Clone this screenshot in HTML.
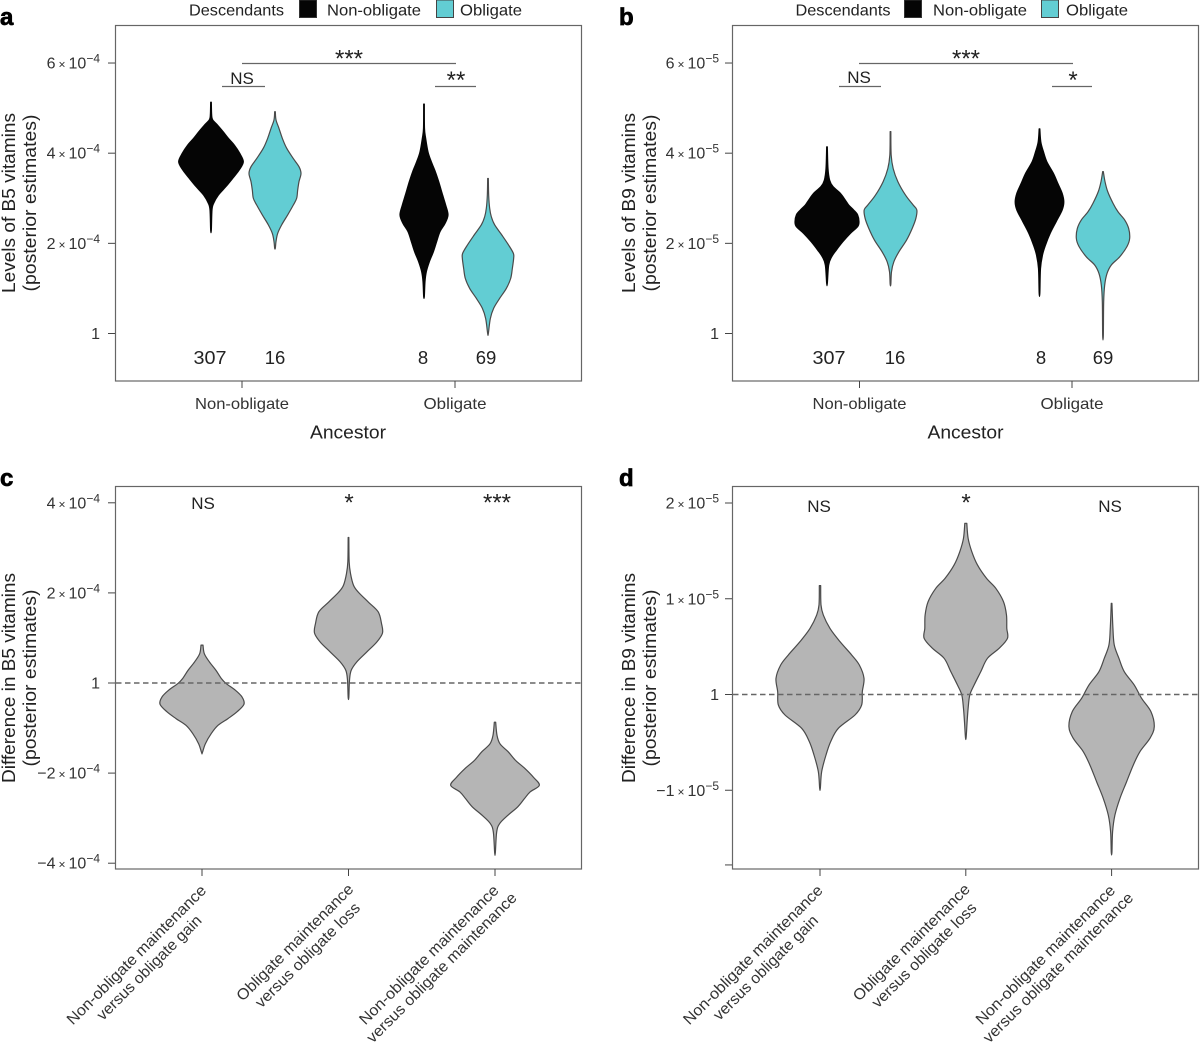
<!DOCTYPE html>
<html lang="en">
<head>
<meta charset="utf-8">
<title>Posterior estimates of B5 and B9 vitamin levels</title>
<style>
  html, body { margin: 0; padding: 0; background: #fff; }
  svg { display: block; }
  text { font-family: "Liberation Sans", sans-serif; fill: #222; }
  .panel-letter { font-size: 24px; font-weight: 700; fill: #000; stroke: #000; stroke-width: .7px; }
  .legend { font-size: 16px; }
  .title { font-size: 18px; }
  .cat { font-size: 16px; fill: #333; }
  .count { font-size: 18.5px; }
  .ns { font-size: 17px; }
  .star { font-size: 24px; }
  .rot { font-size: 15.5px; fill: #333; }
</style>
</head>
<body>
<svg id="figure" width="1200" height="1043" viewBox="0 0 1200 1043" xmlns="http://www.w3.org/2000/svg">
  <rect x="0" y="0" width="1200" height="1043" fill="#fff"/>

  <text class="panel-letter" x="0" y="25">a</text>
  <text class="panel-letter" x="619" y="25">b</text>
  <text class="panel-letter" x="0" y="486">c</text>
  <text class="panel-letter" x="619" y="486">d</text>

  <!-- Legends -->
  <g>
    <text class="legend" x="189" y="15.5" textLength="95" lengthAdjust="spacingAndGlyphs">Descendants</text>
    <rect x="299.5" y="0" width="17" height="17.5" fill="#050505" stroke="#333" stroke-width="1"/>
    <text class="legend" x="327" y="15.5" textLength="94" lengthAdjust="spacingAndGlyphs">Non-obligate</text>
    <rect x="436.5" y="0" width="17" height="17.5" fill="#62CDD3" stroke="#444" stroke-width="1"/>
    <text class="legend" x="460" y="15.5" textLength="62" lengthAdjust="spacingAndGlyphs">Obligate</text>
  </g>
  <g>
    <text class="legend" x="795.5" y="15.5" textLength="95" lengthAdjust="spacingAndGlyphs">Descendants</text>
    <rect x="904.5" y="0" width="17" height="17.5" fill="#050505" stroke="#333" stroke-width="1"/>
    <text class="legend" x="933" y="15.5" textLength="94" lengthAdjust="spacingAndGlyphs">Non-obligate</text>
    <rect x="1041.5" y="0" width="17" height="17.5" fill="#62CDD3" stroke="#444" stroke-width="1"/>
    <text class="legend" x="1066" y="15.5" textLength="62" lengthAdjust="spacingAndGlyphs">Obligate</text>
  </g>

  <!-- Frames -->
  <rect x="115.5" y="25.5" width="466" height="355.5" fill="none" stroke="#666" stroke-width="1.2"/>
  <rect x="732.5" y="25.5" width="466" height="355.5" fill="none" stroke="#666" stroke-width="1.2"/>
  <rect x="115.5" y="486.5" width="466" height="382.5" fill="none" stroke="#666" stroke-width="1.2"/>
  <rect x="732.5" y="486.5" width="466" height="382.5" fill="none" stroke="#666" stroke-width="1.2"/>

  <!-- Y axis titles -->
  <g>
    <text class="title" transform="translate(15,203) rotate(-90)" text-anchor="middle" textLength="180" lengthAdjust="spacingAndGlyphs">Levels of B5 vitamins</text>
    <text class="title" transform="translate(36,203) rotate(-90)" text-anchor="middle" textLength="177" lengthAdjust="spacingAndGlyphs">(posterior estimates)</text>
  </g>
  <g>
    <text class="title" transform="translate(635,203) rotate(-90)" text-anchor="middle" textLength="180" lengthAdjust="spacingAndGlyphs">Levels of B9 vitamins</text>
    <text class="title" transform="translate(656,203) rotate(-90)" text-anchor="middle" textLength="177" lengthAdjust="spacingAndGlyphs">(posterior estimates)</text>
  </g>
  <g>
    <text class="title" transform="translate(15,678) rotate(-90)" text-anchor="middle" textLength="210" lengthAdjust="spacingAndGlyphs">Difference in B5 vitamins</text>
    <text class="title" transform="translate(36,678) rotate(-90)" text-anchor="middle" textLength="177" lengthAdjust="spacingAndGlyphs">(posterior estimates)</text>
  </g>
  <g>
    <text class="title" transform="translate(635,678) rotate(-90)" text-anchor="middle" textLength="210" lengthAdjust="spacingAndGlyphs">Difference in B9 vitamins</text>
    <text class="title" transform="translate(656,678) rotate(-90)" text-anchor="middle" textLength="177" lengthAdjust="spacingAndGlyphs">(posterior estimates)</text>
  </g>

  <!-- X axis titles and category labels (a, b) -->
  <text class="cat" x="242" y="409" text-anchor="middle" textLength="94" lengthAdjust="spacingAndGlyphs">Non-obligate</text>
  <text class="cat" x="455" y="409" text-anchor="middle" textLength="63" lengthAdjust="spacingAndGlyphs">Obligate</text>
  <text class="title" x="348" y="438.5" text-anchor="middle" textLength="76" lengthAdjust="spacingAndGlyphs">Ancestor</text>
  <text class="cat" x="859.5" y="409" text-anchor="middle" textLength="94" lengthAdjust="spacingAndGlyphs">Non-obligate</text>
  <text class="cat" x="1072" y="409" text-anchor="middle" textLength="63" lengthAdjust="spacingAndGlyphs">Obligate</text>
  <text class="title" x="965.5" y="438.5" text-anchor="middle" textLength="76" lengthAdjust="spacingAndGlyphs">Ancestor</text>

  <!-- Sample counts -->
  <text class="count" x="210" y="364" text-anchor="middle" textLength="33" lengthAdjust="spacingAndGlyphs">307</text>
  <text class="count" x="275" y="364" text-anchor="middle">16</text>
  <text class="count" x="423" y="364" text-anchor="middle">8</text>
  <text class="count" x="486" y="364" text-anchor="middle">69</text>
  <text class="count" x="829" y="364" text-anchor="middle" textLength="33" lengthAdjust="spacingAndGlyphs">307</text>
  <text class="count" x="895" y="364" text-anchor="middle">16</text>
  <text class="count" x="1041" y="364" text-anchor="middle">8</text>
  <text class="count" x="1103" y="364" text-anchor="middle">69</text>

  <!-- Rotated category labels (c, d) -->
  <g class="rot-label" transform="translate(140,958.5) rotate(-45)">
    <text class="rot" x="0" y="0" text-anchor="middle" textLength="190" lengthAdjust="spacingAndGlyphs">Non-obligate maintenance</text>
    <text class="rot" x="0" y="18" text-anchor="middle" textLength="141" lengthAdjust="spacingAndGlyphs">versus obligate gain</text>
  </g>
  <g class="rot-label" transform="translate(298.5,946) rotate(-45)">
    <text class="rot" x="0" y="0" text-anchor="middle" textLength="158" lengthAdjust="spacingAndGlyphs">Obligate maintenance</text>
    <text class="rot" x="0" y="18" text-anchor="middle" textLength="141" lengthAdjust="spacingAndGlyphs">versus obligate loss</text>
  </g>
  <g class="rot-label" transform="translate(432.5,958.5) rotate(-45)">
    <text class="rot" x="0" y="0" text-anchor="middle" textLength="190" lengthAdjust="spacingAndGlyphs">Non-obligate maintenance</text>
    <text class="rot" x="0" y="18" text-anchor="middle" textLength="205" lengthAdjust="spacingAndGlyphs">versus obligate maintenance</text>
  </g>
  <g class="rot-label" transform="translate(756.5,958.5) rotate(-45)">
    <text class="rot" x="0" y="0" text-anchor="middle" textLength="190" lengthAdjust="spacingAndGlyphs">Non-obligate maintenance</text>
    <text class="rot" x="0" y="18" text-anchor="middle" textLength="141" lengthAdjust="spacingAndGlyphs">versus obligate gain</text>
  </g>
  <g class="rot-label" transform="translate(915,946) rotate(-45)">
    <text class="rot" x="0" y="0" text-anchor="middle" textLength="158" lengthAdjust="spacingAndGlyphs">Obligate maintenance</text>
    <text class="rot" x="0" y="18" text-anchor="middle" textLength="141" lengthAdjust="spacingAndGlyphs">versus obligate loss</text>
  </g>
  <g class="rot-label" transform="translate(1049,958.5) rotate(-45)">
    <text class="rot" x="0" y="0" text-anchor="middle" textLength="190" lengthAdjust="spacingAndGlyphs">Non-obligate maintenance</text>
    <text class="rot" x="0" y="18" text-anchor="middle" textLength="205" lengthAdjust="spacingAndGlyphs">versus obligate maintenance</text>
  </g>

  <g id="marks"></g>

  <!-- Significance annotations -->
  <g>
    <line x1="242" x2="456" y1="63.5" y2="63.5" stroke="#666" stroke-width="1.2"/>
    <text class="star" x="349" y="66.5" text-anchor="middle">***</text>
    <line x1="222" x2="265" y1="86.5" y2="86.5" stroke="#666" stroke-width="1.2"/>
    <text class="ns" x="242" y="84" text-anchor="middle">NS</text>
    <line x1="435" x2="476" y1="86.5" y2="86.5" stroke="#666" stroke-width="1.2"/>
    <text class="star" x="456" y="88" text-anchor="middle">**</text>
  </g>
  <g>
    <line x1="859" x2="1073" y1="63.5" y2="63.5" stroke="#666" stroke-width="1.2"/>
    <text class="star" x="966" y="66.5" text-anchor="middle">***</text>
    <line x1="839" x2="881" y1="86.5" y2="86.5" stroke="#666" stroke-width="1.2"/>
    <text class="ns" x="859" y="83" text-anchor="middle">NS</text>
    <line x1="1052" x2="1092" y1="86.5" y2="86.5" stroke="#666" stroke-width="1.2"/>
    <text class="star" x="1073" y="88" text-anchor="middle">*</text>
  </g>
  <g>
    <text class="ns" x="203" y="509" text-anchor="middle">NS</text>
    <text class="star" x="349" y="510.5" text-anchor="middle">*</text>
    <text class="star" x="497" y="510.5" text-anchor="middle">***</text>
  </g>
  <g>
    <text class="ns" x="819" y="512" text-anchor="middle">NS</text>
    <text class="star" x="966" y="510.5" text-anchor="middle">*</text>
    <text class="ns" x="1110" y="512" text-anchor="middle">NS</text>
  </g>
</svg>

<script>
// ---------- Panel a: B5 levels (units of 1e-4) ----------
const aTickValues = [0, 2, 4, 6];
const aTickLabels = ["1", "2", "4", "6"];
const aNN_values = [5.13,4.85,4.74,4.62,4.48,4.33,4.18,4.00,3.81,3.63,3.44,3.26,3.07,2.89,2.74,2.29];
const aNN_density = [1,2,5,20,36,52,70,86,97,85,65,45,22,8,3,1];
const aNO_values = [4.92,4.74,4.55,4.33,4.11,3.88,3.70,3.55,3.37,3.18,3.00,2.85,2.63,2.41,2.22,2.04,1.89];
const aNO_density = [1,3,12,22,35,55,72,78,72,68,65,55,38,20,8,3,1];
const aON_values = [5.09,4.55,4.33,4.03,3.81,3.59,3.37,3.07,2.85,2.63,2.44,2.26,2.04,1.81,1.59,1.37,1.15,0.82];
const aON_density = [1,1.5,5,12,22,34,44,56,65,72,63,48,38,28,16,7,3,1];
const aOO_values = [3.44,3.07,2.78,2.59,2.41,2.18,1.96,1.78,1.67,1.44,1.22,1.00,0.78,0.56,0.33,0.00];
const aOO_density = [1,2,5,10,20,42,62,76,77,73,68,55,35,17,7,1];

// ---------- Panel b: B9 levels (units of 1e-5) ----------
const bTickValues = [0, 2, 4, 6];
const bTickLabels = ["1", "2", "4", "6"];
const bNN_values = [4.14,3.66,3.40,3.26,3.11,2.96,2.85,2.74,2.63,2.48,2.37,2.22,2.04,1.85,1.70,1.52,1.11];
const bNN_density = [1,3,8,18,40,55,65,80,92,96,92,70,48,28,14,5,1];
const bNO_values = [4.48,3.96,3.66,3.37,3.07,2.85,2.74,2.55,2.33,2.07,1.81,1.59,1.37,1.09];
const bNO_density = [1,2,8,22,45,68,79,76,65,48,25,10,3,1];
const bON_values = [4.54,4.25,4.03,3.81,3.55,3.33,3.11,2.92,2.74,2.48,2.22,1.96,1.74,1.44,0.89];
const bON_density = [1,4,12,22,42,55,68,73,68,50,32,18,9,3,1];
const bOO_values = [3.59,3.37,3.15,2.89,2.70,2.52,2.33,2.11,1.93,1.70,1.52,1.33,1.07,0.70,-0.05];
const bOO_density = [1,6,14,30,45,65,77,80,72,50,25,12,5,2,1];

// ---------- Panel c: B5 differences (units of 1e-4) ----------
const cTickValues = [-4, -2, 0, 2, 4];
const cTickLabels = ["\u22124", "\u22122", "1", "2", "4"];
const c1_values = [0.84,0.65,0.47,0.28,0.10,-0.01,-0.16,-0.31,-0.47,-0.64,-0.79,-0.94,-1.12,-1.35,-1.55];
const c1_density = [3,7,22,42,58,72,100,120,126,105,78,48,28,10,1];
const c2_values = [3.23,2.69,2.43,2.17,2.02,1.80,1.58,1.32,1.11,0.91,0.69,0.47,0.28,0.06,-0.32];
const c2_density = [1,2,6,15,29,59,89,99,102,85,55,25,8,3,1];
const c3_values = [-0.87,-1.16,-1.35,-1.53,-1.72,-1.90,-2.09,-2.27,-2.42,-2.57,-2.75,-2.94,-3.12,-3.31,-3.77];
const c3_density = [2,6,15,40,62,90,115,133,105,88,68,38,14,5,1];

// ---------- Panel d: B9 differences (units of 1e-5) ----------
const dTickValues = [-1.78, -1, 0, 1, 2];
const dTickLabels = ["", "\u22121", "1", "1", "2"];
const d1_values = [1.137,0.935,0.83,0.69,0.552,0.413,0.308,0.169,0.03,-0.109,-0.214,-0.353,-0.492,-0.632,-0.806,-0.98];
const d1_density = [2,3,10,30,60,95,118,132,127,125,105,55,32,18,5,1];
const d2_values = [1.788,1.631,1.492,1.353,1.214,1.109,0.97,0.831,0.691,0.587,0.482,0.378,0.239,0.099,-0.005,-0.144,-0.283,-0.45];
const d2_density = [3,7,18,35,62,90,113,122,123,125,100,65,45,25,12,7,4,1];
const d3_values = [0.952,0.691,0.517,0.378,0.238,0.099,-0.04,-0.179,-0.336,-0.458,-0.597,-0.737,-0.911,-1.085,-1.259,-1.433,-1.649];
const d3_density = [1,4,8,22,38,68,90,118,128,115,85,65,45,25,10,3,1];

// ---------- Axis functions ----------
const WIDTH_PER_DENSITY = 1 / 3;
function yLinear(zero, pxPerUnit) { return function (v) { return zero - v * pxPerUnit; }; }
function xBand(first, step) { return function (i) { return first + step * i; }; }

const svgNS = 'http://www.w3.org/2000/svg';
const marks = document.getElementById('marks');

function make(tag, attrs, parent) {
  const el = document.createElementNS(svgNS, tag);
  Object.keys(attrs).forEach(function (k) { el.setAttribute(k, attrs[k]); });
  parent.appendChild(el);
  return el;
}

function smoothPath(pts) {
  let d = 'M' + pts[0][0].toFixed(2) + ' ' + pts[0][1].toFixed(2);
  for (let i = 0; i < pts.length - 1; i++) {
    const p0 = pts[Math.max(i - 1, 0)], p1 = pts[i], p2 = pts[i + 1], p3 = pts[Math.min(i + 2, pts.length - 1)];
    const c1x = p1[0] + (p2[0] - p0[0]) / 6, c1y = p1[1] + (p2[1] - p0[1]) / 6;
    const c2x = p2[0] - (p3[0] - p1[0]) / 6, c2y = p2[1] - (p3[1] - p1[1]) / 6;
    d += 'C' + c1x.toFixed(2) + ' ' + c1y.toFixed(2) + ' ' + c2x.toFixed(2) + ' ' + c2y.toFixed(2) + ' ' + p2[0].toFixed(2) + ' ' + p2[1].toFixed(2);
  }
  return d + 'Z';
}

function drawViolin(parent, name, values, density, cx, yScale, fill, stroke) {
  const right = values.map(function (v, i) { return [cx + density[i] * WIDTH_PER_DENSITY, yScale(v)]; });
  const left = values.map(function (v, i) { return [cx - density[i] * WIDTH_PER_DENSITY, yScale(v)]; }).reverse();
  const path = make('path', { d: smoothPath(right.concat(left)), fill: fill, stroke: stroke, 'stroke-width': 1.2, 'stroke-linejoin': 'round' }, parent);
  
  
}

function drawYAxis(parent, tickValues, tickLabels, exponent, yScale, frameLeft, labelRight) {
  tickValues.forEach(function (v, i) {
    const y = yScale(v);
    const tick = make('line', { x1: frameLeft - 7, x2: frameLeft, y1: y, y2: y, stroke: '#444', 'stroke-width': 1 }, parent);
    
    
    const label = tickLabels[i];
    if (label === '') return;
    const t = make('text', { x: labelRight, y: y + 5.5, 'text-anchor': 'end', 'font-size': 16, style: 'fill:#333' }, parent);
    
    
    const m = make('tspan', {}, t);
    m.textContent = label;
    if (v !== 0) {
      const times = make('tspan', { 'font-size': 12, dx: 3 }, t);
      times.textContent = '\u00D7';
      const base = make('tspan', { dx: 3 }, t);
      base.textContent = '10';
      const sup = make('tspan', { 'font-size': 12, dy: -6 }, t);
      sup.textContent = exponent;
    }
  });
}

function drawXTicks(parent, count, xScale, frameBottom) {
  for (let i = 0; i < count; i++) {
    const x = xScale(i);
    const tick = make('line', { x1: x, x2: x, y1: frameBottom, y2: frameBottom + 7, stroke: '#444', 'stroke-width': 1 }, parent);
    
    
  }
}

function drawZeroLine(parent, yScale, x1, x2) {
  const line = make('line', { x1: x1, x2: x2, y1: yScale(0), y2: yScale(0), stroke: '#666', 'stroke-width': 1.4, 'stroke-dasharray': '5.5 3.5' }, parent);
  
  
}

const TEAL = '#62CDD3', BLACK = '#050505', GREY = '#B5B5B5', EDGE = '#4a4a4a';
const DODGE_A_LEFT = -31, DODGE_A_RIGHT = 33, DODGE_B_LEFT = -32.5, DODGE_B_RIGHT = 31;

// Panel a
const gA = make('g', {}, marks);


const yA = yLinear(333.5, 45.08);
const xA = xBand(242, 213);
drawYAxis(gA, aTickValues, aTickLabels, '\u22124', yA, 115, 100);
drawXTicks(gA, 2, xA, 381);
drawViolin(gA, 'violin-non-obligate-ancestor-non-obligate', aNN_values, aNN_density, xA(0) + DODGE_A_LEFT, yA, BLACK, BLACK);
drawViolin(gA, 'violin-non-obligate-ancestor-obligate', aNO_values, aNO_density, xA(0) + DODGE_A_RIGHT, yA, TEAL, EDGE);
drawViolin(gA, 'violin-obligate-ancestor-non-obligate', aON_values, aON_density, xA(1) + DODGE_A_LEFT, yA, BLACK, BLACK);
drawViolin(gA, 'violin-obligate-ancestor-obligate', aOO_values, aOO_density, xA(1) + DODGE_A_RIGHT, yA, TEAL, EDGE);

// Panel b
const gB = make('g', {}, marks);


const yB = yLinear(333.5, 45.08);
const xB = xBand(859.5, 212.5);
drawYAxis(gB, bTickValues, bTickLabels, '\u22125', yB, 732, 719);
drawXTicks(gB, 2, xB, 381);
drawViolin(gB, 'violin-non-obligate-ancestor-non-obligate', bNN_values, bNN_density, xB(0) + DODGE_B_LEFT, yB, BLACK, BLACK);
drawViolin(gB, 'violin-non-obligate-ancestor-obligate', bNO_values, bNO_density, xB(0) + DODGE_B_RIGHT, yB, TEAL, EDGE);
drawViolin(gB, 'violin-obligate-ancestor-non-obligate', bON_values, bON_density, xB(1) + DODGE_B_LEFT, yB, BLACK, BLACK);
drawViolin(gB, 'violin-obligate-ancestor-obligate', bOO_values, bOO_density, xB(1) + DODGE_B_RIGHT, yB, TEAL, EDGE);

// Panel c
const gC = make('g', {}, marks);


const yC = yLinear(683, 45.05);
const xC = xBand(202, 146.5);
drawYAxis(gC, cTickValues, cTickLabels, '\u22124', yC, 115, 100);
drawXTicks(gC, 3, xC, 869);
drawViolin(gC, 'violin-non-obligate-maintenance-vs-gain', c1_values, c1_density, xC(0), yC, GREY, EDGE);
drawViolin(gC, 'violin-obligate-maintenance-vs-loss', c2_values, c2_density, xC(1), yC, GREY, EDGE);
drawViolin(gC, 'violin-non-obligate-vs-obligate-maintenance', c3_values, c3_density, xC(2), yC, GREY, EDGE);
drawZeroLine(gC, yC, 116, 581);

// Panel d
const gD = make('g', {}, marks);


const yD = yLinear(694.5, 95.75);
const xD = xBand(820, 145.8);
drawYAxis(gD, dTickValues, dTickLabels, '\u22125', yD, 732, 719);
drawXTicks(gD, 3, xD, 869);
drawViolin(gD, 'violin-non-obligate-maintenance-vs-gain', d1_values, d1_density, xD(0), yD, GREY, EDGE);
drawViolin(gD, 'violin-obligate-maintenance-vs-loss', d2_values, d2_density, xD(1), yD, GREY, EDGE);
drawViolin(gD, 'violin-non-obligate-vs-obligate-maintenance', d3_values, d3_density, xD(2), yD, GREY, EDGE);
drawZeroLine(gD, yD, 733, 1198);
</script>
</body>
</html>
